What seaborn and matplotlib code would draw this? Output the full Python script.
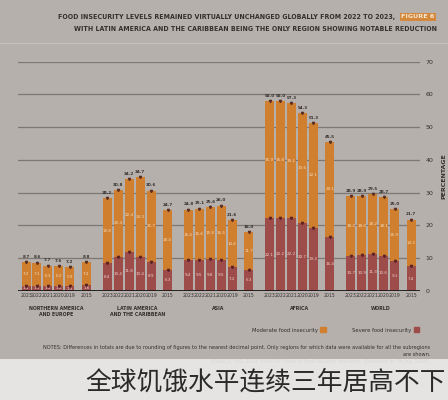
import matplotlib
matplotlib.use("Agg")
import matplotlib.pyplot as plt
import matplotlib.patches as mpatches
import pandas as pd
import seaborn as sns

regions = ["NORTHERN AMERICA\nAND EUROPE", "LATIN AMERICA\nAND THE CARIBBEAN", "ASIA", "AFRICA", "WORLD"]
years = ["2015", "2019", "2020", "2021", "2022", "2023"]

# moderate or severe (total) and severe food insecurity, %, in year order
total_nae = [8.8, 7.2, 7.6, 7.7, 8.6, 8.7]
severe_nae = [1.6, 1.3, 1.4, 1.4, 1.5, 1.5]
total_lac = [24.7, 30.6, 34.7, 34.2, 30.8, 28.2]
severe_lac = [6.3, 8.9, 10.4, 11.8, 10.4, 8.4]
total_asia = [18.0, 21.6, 26.0, 25.6, 25.1, 24.8]
severe_asia = [6.3, 7.2, 9.5, 9.8, 9.5, 9.4]
total_africa = [45.5, 51.3, 54.3, 57.3, 58.0, 58.0]
severe_africa = [16.4, 19.2, 20.7, 22.2, 22.2, 22.1]
total_world = [21.7, 25.0, 28.7, 29.5, 28.9, 28.9]
severe_world = [7.4, 9.1, 10.6, 11.3, 10.9, 10.7]

totals = [total_nae, total_lac, total_asia, total_africa, total_world]
severes = [severe_nae, severe_lac, severe_asia, severe_africa, severe_world]

BG = "#b5b0ac"
ORANGE = "#cf7f2e"
RED = "#9d4c4a"
DARK = "#34302e"

# the picture is mirrored: newest year on the left, 2015 set apart on the right
slot = {"2023": 0, "2022": 1, "2021": 2, "2020": 3, "2019": 4, "2015": 5.5}
group_step = 7.4

rows = []
for g, reg in enumerate(regions):
    for y, t, s in zip(years, totals[g], severes[g]):
        rows.append({"region": reg, "year": y, "total": t, "severe": s,
                     "pos": g * group_step + slot[y]})
df = pd.DataFrame(rows)

plt.rcParams["font.family"] = ["DejaVu Sans"]
fig = plt.figure(figsize=(4.48, 4.0), dpi=100, facecolor=BG)
ax = fig.add_axes([18 / 448, 1 - 290.7 / 400, 402 / 448, 229 / 400])
ax.set_facecolor(BG)

sns.barplot(data=df, x="pos", y="total", native_scale=True, color=ORANGE,
            saturation=1, width=0.82, linewidth=0, errorbar=None, ax=ax, zorder=2)
sns.barplot(data=df, x="pos", y="severe", native_scale=True, color=RED,
            saturation=1, width=0.82, linewidth=0, errorbar=None, ax=ax, zorder=2)

ax.set_xlim(-0.73, 35.92)
ax.set_ylim(0, 70)
ax.set_yticks(range(0, 80, 10))
ax.yaxis.tick_right()
ax.yaxis.set_label_position("right")
ax.tick_params(axis="y", length=0, pad=4, labelsize=4.5, labelcolor=DARK)
ax.grid(axis="y", color="#7d7874", linewidth=0.9)
ax.set_axisbelow(True)
ax.axhline(0, color="#1a1a1a", linewidth=1.3, zorder=3)
for sp in ax.spines.values():
    sp.set_visible(False)

ax.set_xticks(df["pos"], labels=df["year"])
ax.tick_params(axis="x", length=0, pad=2, labelsize=3.3, labelcolor=DARK)
ax.set_xlabel("")
ax.set_ylabel("PERCENTAGE", fontsize=4.5, fontweight="bold", color=DARK, labelpad=6)

# value labels and small markers
for _, r in df.iterrows():
    mod = r["total"] - r["severe"]
    ax.text(r["pos"], r["total"] + 1.0, f"{r['total']:.1f}", ha="center", va="bottom",
            fontsize=3.0, color=DARK, fontweight="bold")
    ax.text(r["pos"], r["severe"] + mod / 2, f"{mod:.1f}", ha="center", va="center",
            fontsize=3.0, color="#f3dcc0")
    ax.text(r["pos"], r["severe"] / 2, f"{r['severe']:.1f}", ha="center", va="center",
            fontsize=3.0, color="#f0d0cc")
ax.plot(df["pos"], df["total"], "v", ms=1.6, color="#5a2d22", zorder=4)
ax.plot(df["pos"], df["severe"], "v", ms=1.6, color="#5a2222", zorder=4)

# region names under each group
for g, reg in enumerate(regions):
    center = g * group_step + 2.75
    ax.text(center, -0.065, reg, transform=ax.get_xaxis_transform(), ha="center",
            va="top", fontsize=3.4, fontweight="bold", color=DARK, linespacing=1.3)

# title
fig.text(395 / 448, 1 - 17 / 400,
         "FOOD INSECURITY LEVELS REMAINED VIRTUALLY UNCHANGED GLOBALLY FROM 2022 TO 2023,",
         ha="right", va="center", fontsize=5.0, fontweight="bold", color=DARK,
         fontstretch="condensed")
fig.text(437 / 448, 1 - 29 / 400,
         "WITH LATIN AMERICA AND THE CARIBBEAN BEING THE ONLY REGION SHOWING NOTABLE REDUCTION",
         ha="right", va="center", fontsize=5.0, fontweight="bold", color=DARK,
         fontstretch="condensed")
fig.text(418 / 448, 1 - 17 / 400, "FIGURE 6", ha="center", va="center", fontsize=4.6,
         fontweight="bold", color="#f7e6d2",
         bbox=dict(boxstyle="square,pad=0.25", fc="#d3883c", ec="none"))
fig.add_artist(plt.Line2D([0.0, 1.0], [1 - 43 / 400, 1 - 43 / 400], color="#c6c2bf",
                          linewidth=0.8))

# legend
h_mod = mpatches.Patch(color=ORANGE, label="Moderate food insecurity")
h_sev = mpatches.Patch(color=RED, label="Severe food insecurity")
fig.legend(handles=[h_mod, h_sev], loc="center right", bbox_to_anchor=(424 / 448, 1 - 330 / 400),
           ncol=2, markerfirst=False, frameon=False, fontsize=3.8, handlelength=1.0,
           handleheight=1.0, columnspacing=5.0, handletextpad=0.5, labelcolor=DARK)

# notes and source
fig.text(430 / 448, 1 - 347 / 400,
         "NOTES: Differences in totals are due to rounding of figures to the nearest decimal point. "
         "Only regions for which data were available for all the subregions",
         ha="right", va="center", fontsize=3.6, color=DARK)
fig.text(430 / 448, 1 - 354 / 400, "are shown.", ha="right", va="center", fontsize=3.6,
         color=DARK)
fig.text(430 / 448, 1 - 362 / 400,
         "SOURCE: FAO. 2024. FAOSTAT: Suite of Food Security Indicators. [Accessed on 24 July 2024].",
         ha="right", va="center", fontsize=3.4, color=DARK)

# caption band
fig.add_artist(mpatches.Rectangle((0, 0), 1, 1 - 359 / 400, transform=fig.transFigure,
                                  facecolor="#ebeae9", edgecolor="none", alpha=0.9, zorder=5))
fig.text(446 / 448, 1 - 383 / 400, "全球饥饿水平连续三年居高不下", ha="right", va="center",
         fontsize=18.5, fontweight="light", color="#2a2a2a", zorder=6,
         family=["Noto Sans CJK SC", "DejaVu Sans"])

fig.savefig("out.png", dpi=100, facecolor=BG)
